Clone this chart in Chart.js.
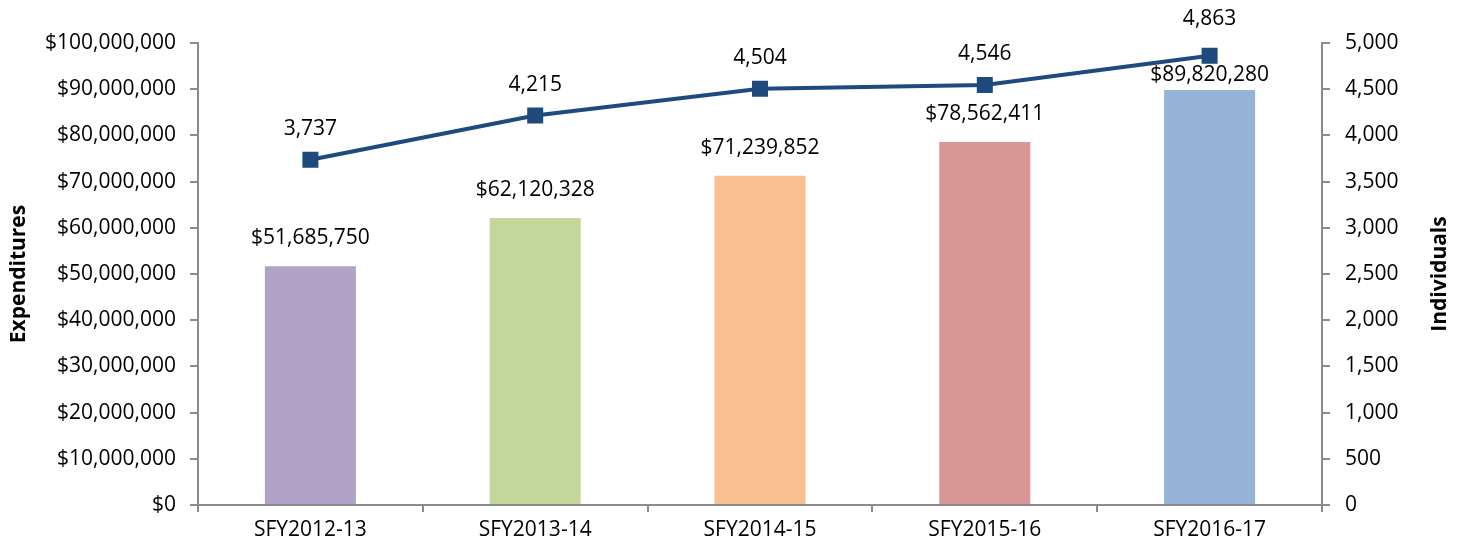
<!DOCTYPE html>
<html>
<head>
<meta charset="utf-8">
<script src="https://cdn.jsdelivr.net/npm/chart.js@4.4.0/dist/chart.umd.min.js"></script>
<style>
    html, body { margin: 0; padding: 0; background: #fff; }
    #wrap { width: 1462px; height: 554px; }
</style>
</head>
<body>
<div id="wrap"><canvas id="expChart" width="1462" height="554"></canvas></div>
<script>
const years = ['SFY2012-13', 'SFY2013-14', 'SFY2014-15', 'SFY2015-16', 'SFY2016-17'];
const expenditures = [51685750, 62120328, 71239852, 78562411, 89820280];
const individuals = [3737, 4215, 4504, 4546, 4863];
const barColors = ['#B3A2C7', '#C4D79B', '#FAC090', '#D99694', '#95B3D7'];

const FONT = '"Open Sans", "Liberation Sans", sans-serif';
const axisGray = '#8C8C8C';

function fmtNum(v) {
    return v.toLocaleString('en-US');
}

// value labels and bottom-to-top axis titles
const labelsPlugin = {
    id: 'labelsPlugin',
    afterDatasetsDraw(chart) {
        const ctx = chart.ctx;
        ctx.save();
        ctx.fillStyle = '#000';
        ctx.font = '21px ' + FONT;
        ctx.textAlign = 'center';
        ctx.textBaseline = 'middle';

        const bars = chart.getDatasetMeta(1).data;
        bars.forEach((bar, i) => {
            // last label sits closer to its bar (the line runs just above it)
            const off = i === bars.length - 1 ? 15 : 28;
            ctx.fillText('$' + fmtNum(expenditures[i]), bar.x, bar.y - off);
        });
        const pts = chart.getDatasetMeta(0).data;
        pts.forEach((pt, i) => {
            const off = i === pts.length - 1 ? 37 : 31;
            ctx.fillText(fmtNum(individuals[i]), pt.x, pt.y - off);
        });

        ctx.font = 'bold 21px ' + FONT;
        const midY = (chart.chartArea.top + chart.chartArea.bottom) / 2;
        [['Expenditures', 19], ['Individuals', 1440]].forEach(([t, x]) => {
            ctx.save();
            ctx.translate(x, midY);
            ctx.rotate(-Math.PI / 2);
            ctx.fillText(t, 0, 0);
            ctx.restore();
        });
        ctx.restore();
    }
};

new Chart(document.getElementById('expChart').getContext('2d'), {
    data: {
        labels: years,
        datasets: [{
            type: 'line',
            label: 'Individuals',
            data: individuals,
            yAxisID: 'y1',
            borderColor: '#1F4A7E',
            backgroundColor: '#1F4A7E',
            borderWidth: 4,
            pointStyle: 'rect',
            pointRadius: 8.5,
            pointHoverRadius: 8.5,
            tension: 0,
            order: 0
        }, {
            type: 'bar',
            label: 'Expenditures',
            data: expenditures,
            yAxisID: 'y',
            backgroundColor: barColors,
            categoryPercentage: 1,
            barPercentage: 0.405,
            order: 1
        }]
    },
    options: {
        responsive: false,
        animation: false,
        layout: { padding: { top: 43, bottom: 0, left: 0, right: 0 } },
        plugins: {
            legend: { display: false },
            tooltip: { enabled: false }
        },
        scales: {
            x: {
                grid: {
                    offset: true,
                    drawOnChartArea: false,
                    color: axisGray,
                    lineWidth: 2,
                    tickLength: 7
                },
                border: { color: axisGray, width: 2 },
                ticks: { color: '#000', font: { family: FONT, size: 21 }, padding: 5 },
                afterFit(s) { s.height = 49; }
            },
            y: {
                position: 'left',
                min: 0,
                max: 100000000,
                grid: {
                    drawOnChartArea: false,
                    color: axisGray,
                    lineWidth: 2,
                    tickLength: 8
                },
                border: { color: axisGray, width: 2 },
                ticks: {
                    stepSize: 10000000,
                    color: '#000',
                    font: { family: FONT, size: 21 },
                    padding: 14,
                    callback: v => '$' + fmtNum(v)
                },
                afterFit(s) { s.width = 198; }
            },
            y1: {
                position: 'right',
                min: 0,
                max: 5000,
                grid: {
                    drawOnChartArea: false,
                    color: axisGray,
                    lineWidth: 2,
                    tickLength: 8
                },
                border: { color: axisGray, width: 2 },
                ticks: {
                    stepSize: 500,
                    color: '#000',
                    font: { family: FONT, size: 21 },
                    padding: 15,
                    callback: v => fmtNum(v)
                },
                afterFit(s) { s.width = 140; }
            }
        }
    },
    plugins: [labelsPlugin]
});
</script>
</body>
</html>
